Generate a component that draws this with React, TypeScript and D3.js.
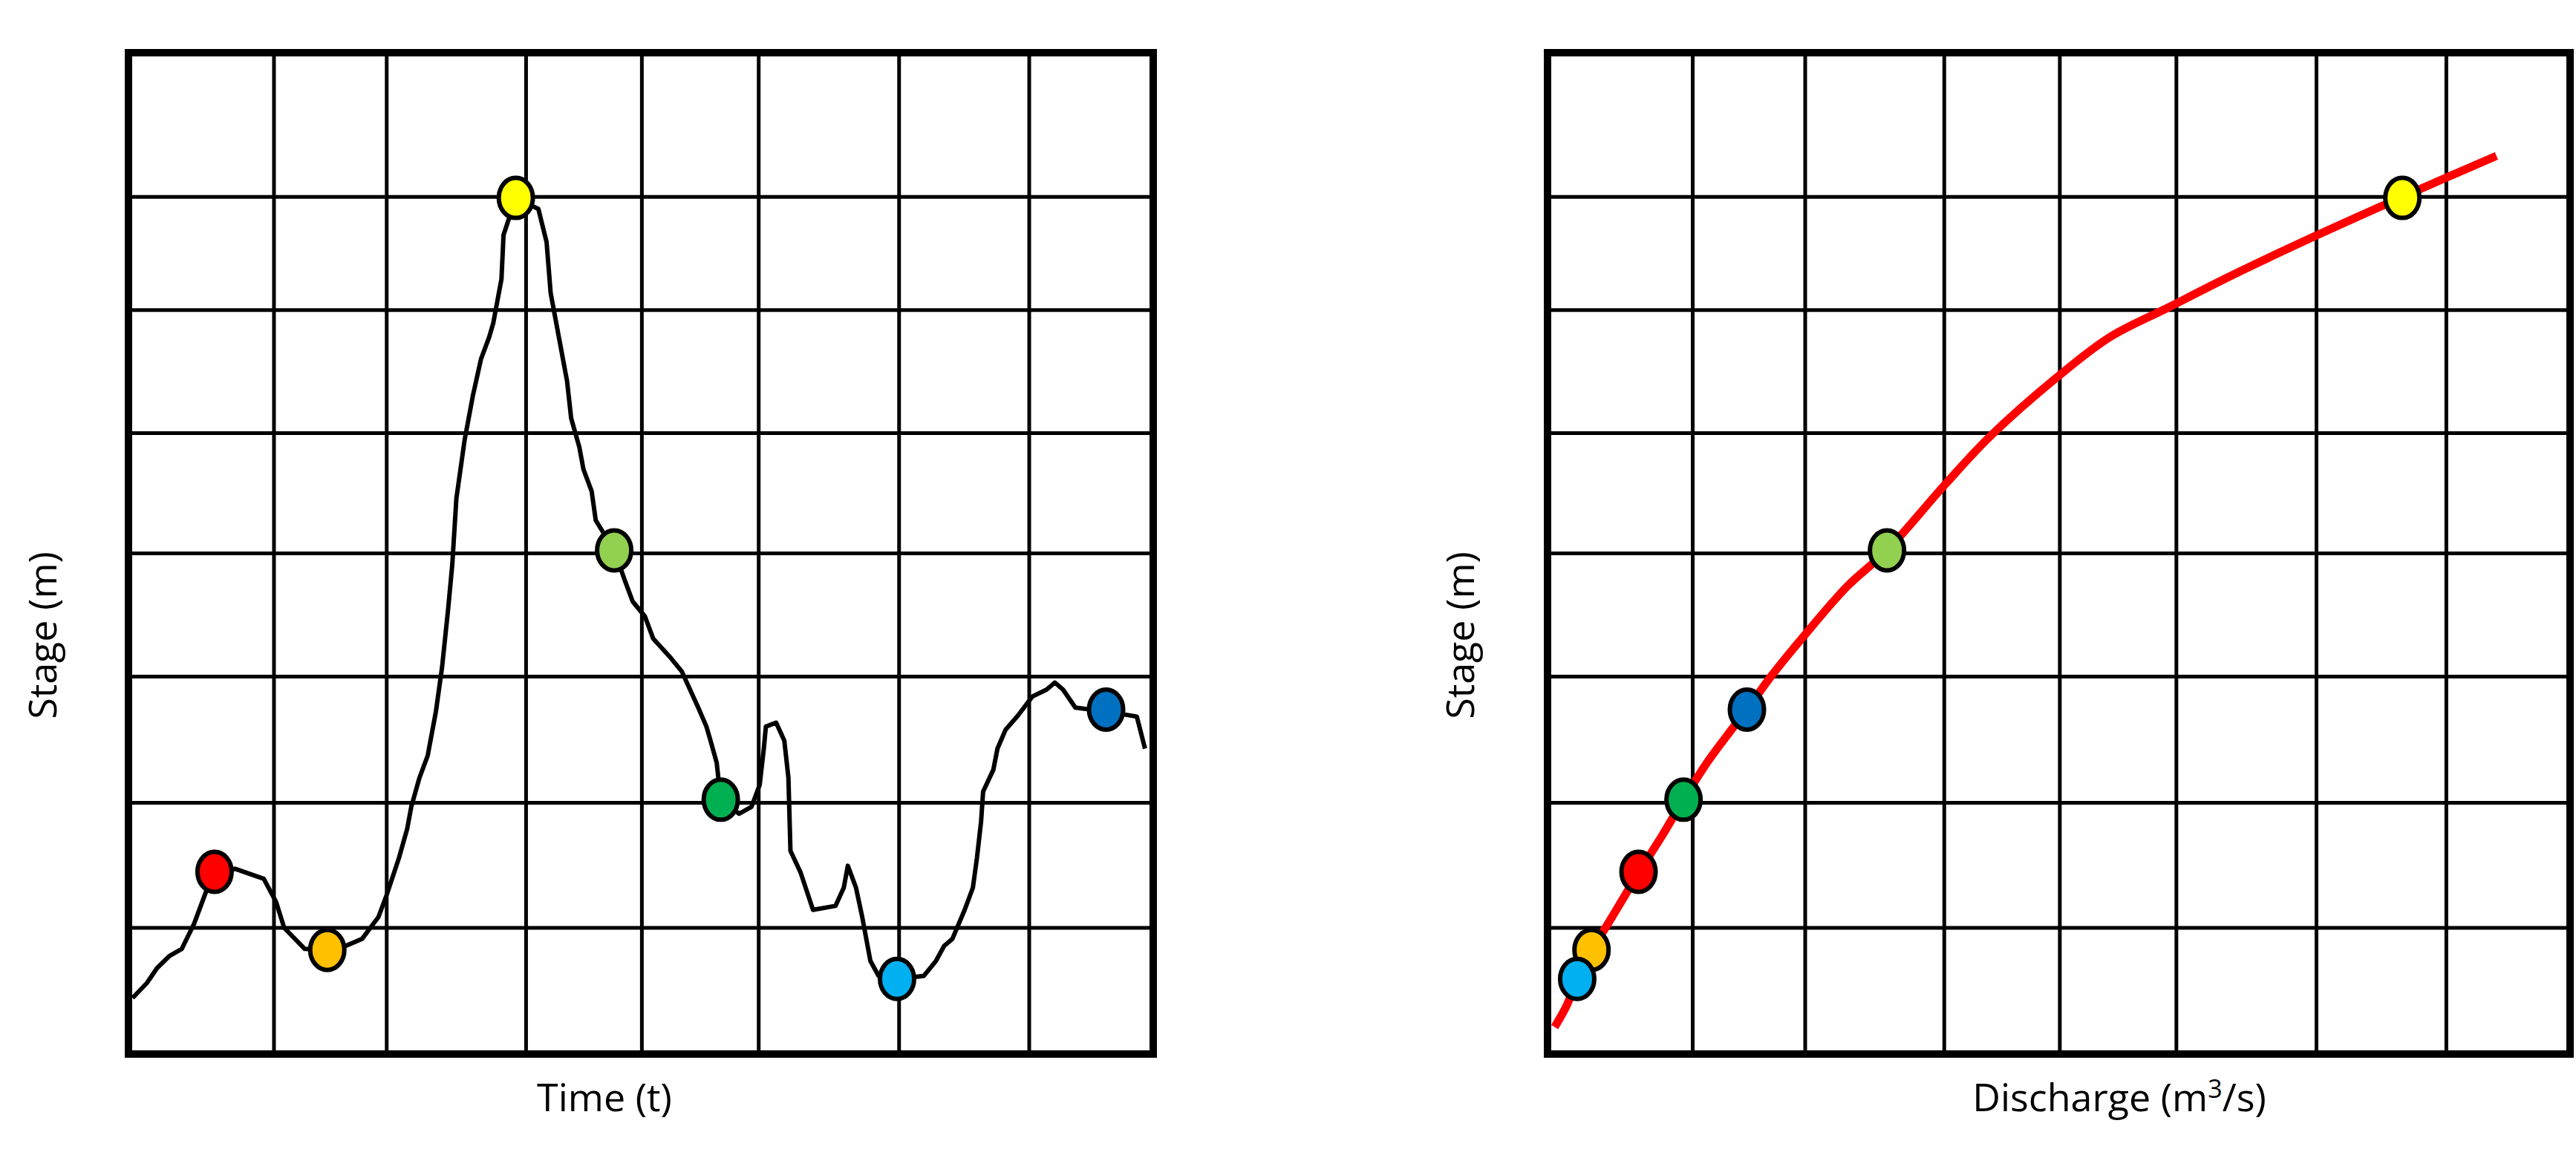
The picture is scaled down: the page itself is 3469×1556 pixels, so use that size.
import React from "react";
import * as d3 from "d3";

// shared grid positions (percent of the frame) – grid is irregular in the source
const gridX = [14.2, 25.2, 38.8, 50.1, 61.5, 75.2, 87.9];
const gridY = [12.6, 25.1, 37.7, 50.0, 62.0, 74.3, 85.6];

// hydrograph [time, stage]
const hydrograph: [number, number][] = [
  [0.4, 5.6], [1.8, 7.1], [2.8, 8.6], [4.0, 9.8], [5.2, 10.5], [6.4, 13.0], [7.6, 16.3],
  [8.4, 18.2], [10.4, 18.5], [13.2, 17.5], [14.4, 15.2], [15.2, 12.6], [17.2, 10.5],
  [19.4, 10.4], [21.2, 10.8], [22.8, 11.5], [24.4, 13.7], [25.2, 15.9], [26.4, 19.6],
  [27.2, 22.5], [27.6, 24.7], [28.4, 27.6], [29.2, 29.8], [30.0, 34.2], [30.6, 38.6],
  [31.2, 44.5], [31.6, 48.9], [32.0, 55.5], [32.8, 61.3], [33.6, 65.7], [34.4, 69.4],
  [35.2, 71.6], [35.6, 73.0], [36.0, 75.2], [36.4, 77.4], [36.6, 81.8], [37.8, 85.5],
  [40.0, 84.4], [40.8, 81.1], [41.2, 76.0], [42.0, 71.6], [42.8, 67.2], [43.2, 63.5],
  [44.0, 60.6], [44.4, 58.4], [45.2, 56.2], [45.6, 53.3], [47.4, 50.3], [48.4, 47.4],
  [49.2, 45.2], [50.4, 43.7], [51.2, 41.5], [52.8, 39.7], [54.0, 38.2], [54.8, 36.4],
  [55.6, 34.6], [56.4, 32.7], [56.8, 31.3], [57.4, 29.1], [57.8, 25.4], [59.6, 24.0],
  [60.8, 24.7], [61.6, 26.9], [62.0, 30.5], [62.2, 32.7], [63.2, 33.1], [64.0, 31.3],
  [64.4, 27.6], [64.6, 20.3], [65.6, 18.1], [66.8, 14.4], [69.0, 14.8], [69.8, 16.6],
  [70.2, 18.8], [71.0, 16.6], [71.6, 13.7], [72.4, 9.3], [73.2, 7.8], [75.0, 7.5],
  [77.6, 7.8], [78.8, 9.3], [79.6, 10.8], [80.4, 11.5], [81.6, 14.4], [82.4, 16.6],
  [82.8, 19.6], [83.2, 23.2], [83.4, 26.2], [84.4, 28.4], [84.8, 30.5], [85.6, 32.4],
  [86.8, 33.8], [88.2, 35.7], [89.6, 36.4], [90.4, 37.1], [91.2, 36.4], [92.4, 34.6],
  [95.4, 34.2], [98.4, 33.7], [99.2, 30.5],
];

// rating curve [discharge, stage]
const rating: [number, number][] = [
  [0.7, 2.7], [1.9, 4.9], [2.9, 7.5], [4.3, 10.3], [5.9, 13.0], [7.2, 15.2], [8.9, 18.1],
  [11.2, 21.8], [13.3, 25.4], [15.6, 29.1], [18.0, 32.4], [19.5, 34.4], [22.0, 37.9],
  [25.2, 41.9], [29.3, 46.7], [33.2, 50.3], [38.9, 56.9], [43.3, 61.7], [50.2, 67.9],
  [55.0, 71.6], [60.6, 74.5], [67.0, 77.8], [75.1, 81.7], [83.6, 85.6], [92.8, 89.7],
];

// sample points: time, discharge, stage, colour
const samples = [
  { c: "#FF0000", t: 8.4, q: 8.9, s: 18.2 },
  { c: "#FFC000", t: 19.4, q: 4.3, s: 10.4 },
  { c: "#FFFF00", t: 37.8, q: 83.6, s: 85.5 },
  { c: "#92D050", t: 47.4, q: 33.2, s: 50.3 },
  { c: "#00B050", t: 57.8, q: 13.3, s: 25.4 },
  { c: "#00B0F0", t: 75.0, q: 2.9, s: 7.5 },
  { c: "#0070C0", t: 95.4, q: 19.5, s: 34.4 },
];

const FONT = "'Open Sans', sans-serif";
const top = 71, bottom = 1420;

const Panel = ({ x0, x1, kind }: { x0: number; x1: number; kind: "time" | "q" }) => {
  const x = d3.scaleLinear().domain([0, 100]).range([x0, x1]);
  const y = d3.scaleLinear().domain([0, 100]).range([bottom, top]);
  const data = kind === "time" ? hydrograph : rating;
  const line = d3
    .line<[number, number]>()
    .x((d) => x(d[0]))
    .y((d) => y(d[1]))
    .curve(kind === "time" ? d3.curveLinear : d3.curveCatmullRom.alpha(0.5));
  return (
    <g>
      {gridX.map((g) => (
        <line key={"x" + g} x1={x(g)} x2={x(g)} y1={top} y2={bottom} stroke="#000" strokeWidth={5} />
      ))}
      {gridY.map((g) => (
        <line key={"y" + g} x1={x0} x2={x1} y1={y(g)} y2={y(g)} stroke="#000" strokeWidth={5} />
      ))}
      <path
        d={line(data) || ""}
        fill="none"
        stroke={kind === "time" ? "#000" : "#FF0000"}
        strokeWidth={kind === "time" ? 6 : 11}
        strokeLinejoin="round"
      />
      {samples.map((p) => (
        <ellipse
          key={p.c}
          cx={x(kind === "time" ? p.t : p.q)}
          cy={y(p.s)}
          rx={23}
          ry={27}
          fill={p.c}
          stroke="#000"
          strokeWidth={6}
        />
      ))}
      <rect x={x0} y={top} width={x1 - x0} height={bottom - top} fill="none" stroke="#000" strokeWidth={10} />
    </g>
  );
};

export default function App() {
  return (
    <svg
      width={3469}
      height={1556}
      style={{ position: "absolute", left: 0, top: 0, background: "#fff" }}
    >
      <Panel x0={173} x1={1553} kind="time" />
      <Panel x0={2084} x1={3461} kind="q" />
      <g fontFamily={FONT} fontSize={52} fill="#000" textAnchor="middle">
        <text transform="translate(76,856) rotate(-90)">Stage (m)</text>
        <text transform="translate(1985,856) rotate(-90)">Stage (m)</text>
        <text x={814} y={1497}>Time (t)</text>
        <text x={2854} y={1497}>
          Discharge (m<tspan dy={-18} fontSize={34}>3</tspan>
          <tspan dy={18}>/s)</tspan>
        </text>
      </g>
    </svg>
  );
}
